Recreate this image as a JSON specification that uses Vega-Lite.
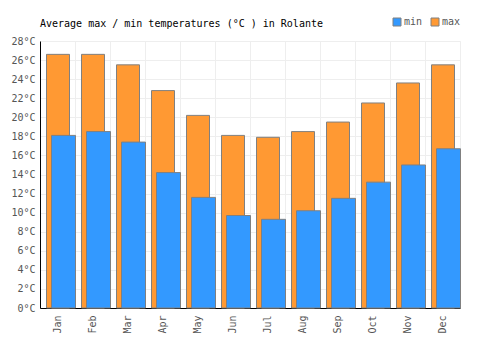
{
  "$schema": "https://vega.github.io/schema/vega-lite/v6.json",
  "width": 420,
  "height": 267,
  "autosize": {"type": "none"},
  "padding": {"left": 40, "top": 41, "right": 40, "bottom": 42},
  "config": {
    "font": "DejaVu Sans Mono",
    "view": {"stroke": "#eeeeee"},
    "axis": {"gridColor": "#eeeeee", "domainColor": "#000000", "labelColor": "#555555", "labelFontSize": 10, "ticks": false, "title": null}
  },
  "title": {"text": "Average max / min temperatures (°C ) in Rolante", "anchor": "start", "frame": "group", "fontSize": 10, "fontWeight": "normal", "color": "#000000", "offset": -12},
  "data": {"values": [
    {"month": "Jan", "type": "max", "temp": 26.6}, {"month": "Jan", "type": "min", "temp": 18.1},
    {"month": "Feb", "type": "max", "temp": 26.6}, {"month": "Feb", "type": "min", "temp": 18.5},
    {"month": "Mar", "type": "max", "temp": 25.5}, {"month": "Mar", "type": "min", "temp": 17.4},
    {"month": "Apr", "type": "max", "temp": 22.8}, {"month": "Apr", "type": "min", "temp": 14.2},
    {"month": "May", "type": "max", "temp": 20.2}, {"month": "May", "type": "min", "temp": 11.6},
    {"month": "Jun", "type": "max", "temp": 18.1}, {"month": "Jun", "type": "min", "temp": 9.7},
    {"month": "Jul", "type": "max", "temp": 17.9}, {"month": "Jul", "type": "min", "temp": 9.3},
    {"month": "Aug", "type": "max", "temp": 18.5}, {"month": "Aug", "type": "min", "temp": 10.2},
    {"month": "Sep", "type": "max", "temp": 19.5}, {"month": "Sep", "type": "min", "temp": 11.5},
    {"month": "Oct", "type": "max", "temp": 21.5}, {"month": "Oct", "type": "min", "temp": 13.2},
    {"month": "Nov", "type": "max", "temp": 23.6}, {"month": "Nov", "type": "min", "temp": 15.0},
    {"month": "Dec", "type": "max", "temp": 25.5}, {"month": "Dec", "type": "min", "temp": 16.7}
  ]},
  "encoding": {
    "x": {"field": "month", "type": "nominal", "sort": null,
      "scale": {"paddingInner": 0, "paddingOuter": 0},
      "axis": {"labelAngle": -90, "labelPadding": 7, "grid": true, "tickBand": "extent", "labelBaseline": "middle", "labelAlign": "right"}},
    "y": {"field": "temp", "type": "quantitative",
      "scale": {"domain": [0, 28], "nice": false},
      "axis": {"values": [0, 2, 4, 6, 8, 10, 12, 14, 16, 18, 20, 22, 24, 26, 28], "labelExpr": "datum.value + '°C'", "labelPadding": 5}},
    "color": {"field": "type", "type": "nominal",
      "scale": {"domain": ["min", "max"], "range": ["#3399ff", "#ff9933"]},
      "legend": {"title": null, "orient": "none", "legendX": 352, "legendY": -24, "direction": "horizontal", "symbolType": "square", "symbolSize": 64, "symbolStrokeColor": "#808080", "symbolStrokeWidth": 1, "labelFontSize": 10, "labelColor": "#555555", "labelOffset": 2, "columnPadding": 6}}
  },
  "layer": [
    {"transform": [{"filter": "datum.type === 'max'"}],
     "mark": {"type": "bar", "size": 23, "xOffset": 0.5, "stroke": "#808080", "strokeWidth": 1, "opacity": 1}},
    {"transform": [{"filter": "datum.type === 'min'"}],
     "mark": {"type": "bar", "size": 24, "xOffset": 6, "stroke": "#808080", "strokeWidth": 1, "opacity": 1}}
  ]
}
